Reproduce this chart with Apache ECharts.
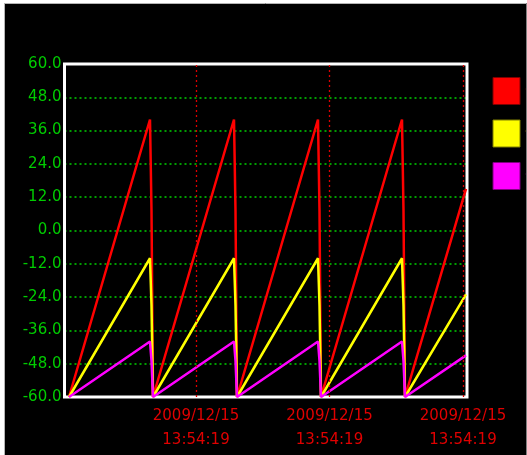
<!DOCTYPE html>
<html>
<head>
<meta charset="utf-8">
<script src="https://cdn.jsdelivr.net/npm/echarts@6/dist/echarts.min.js"></script>
<style>
html,body{margin:0;padding:0;background:#fff;}
#chart{width:527px;height:455px;}
</style>
</head>
<body>
<div id="chart"></div>
<script>
// sample positions along the x axis (sample index units)
const sampleX = [4.5, 85.5, 87, 88.5, 169.5, 171, 172.5, 253.5, 255, 256.5, 337.5, 339, 340.5, 401.5];
const seriesNames = ['CH1', 'CH2', 'CH3'];
const redValues = [-60, 40, 7, -60, 40, 7, -60, 40, 7, -60, 40, 7, -60, 15];
const yellowValues = [-60, -10, -27, -60, -10, -27, -60, -10, -27, -60, -10, -27, -60, -23];
const magentaValues = [-60, -40, -47, -60, -40, -47, -60, -40, -47, -60, -40, -47, -60, -45];
const xTickPositions = [131.5, 265, 398.5];
const xTickLabels = ['2009/12/15\n13:54:19', '2009/12/15\n13:54:19', '2009/12/15\n13:54:19'];
const yMin = -60, yMax = 60, yStep = 12;

const colors = ['#ff0000', '#ffff00', '#ff00ff'];
const borders = ['#800000', '#808000', '#800080'];

function pairs(vals) { return vals.map((v, i) => [sampleX[i], v]); }

const chart = echarts.init(document.getElementById('chart'), null, {renderer: 'canvas'});
const GL = 64.5, GT = 64, GW = 402.5, GH = 333;
const option = {
  backgroundColor: '#000',
  animation: false,
  textStyle: {fontFamily: 'DejaVu Sans'},
  grid: {left: GL, top: GT, width: GW, height: GH, show: false},
  legend: {
    orient: 'vertical', left: 492.5, top: 77, padding: 0,
    itemWidth: 27, itemHeight: 27, itemGap: 14.5,
    icon: 'rect',
    textStyle: {fontSize: 15, fontFamily: 'DejaVu Sans'},
    data: seriesNames.map((n, i) => ({name: n, textStyle: {color: colors[i]}, itemStyle: {color: colors[i], borderColor: borders[i], borderWidth: 1}}))
  },
  xAxis: {
    type: 'value', min: 0, max: GW,
    axisLine: {show: false}, axisTick: {show: false}, splitLine: {show: false},
    axisLabel: {
      customValues: xTickPositions,
      formatter: v => { const i = xTickPositions.indexOf(v); return i >= 0 ? xTickLabels[i] : ''; },
      color: '#e00000', fontSize: 15, fontFamily: 'DejaVu Sans', lineHeight: 24, margin: 7
    }
  },
  yAxis: {
    type: 'value', min: yMin, max: yMax, interval: yStep,
    axisLine: {show: false}, axisTick: {show: false},
    splitLine: {show: true, lineStyle: {color: '#00d000', type: [2, 3], width: 1.6}},
    axisLabel: {color: '#00cc00', fontSize: 15, fontFamily: 'DejaVu Sans', margin: 3, formatter: v => v.toFixed(1)}
  },
  graphic: [
    {type: 'rect', z: 1, silent: true, shape: {x: GL, y: GT, width: GW, height: GH}, style: {fill: null, stroke: '#ffffff', lineWidth: 3}},
    {type: 'rect', z: 100, silent: true, shape: {x: 0, y: 0, width: 527, height: 3}, style: {fill: '#ffffff'}},
    {type: 'rect', z: 100, silent: true, shape: {x: 0, y: 0, width: 4, height: 455}, style: {fill: '#ffffff'}},
    {type: 'line', z: 101, silent: true, shape: {x1: 4, y1: 3.5, x2: 527, y2: 3.5}, style: {stroke: '#b4b4b4', lineWidth: 1}},
    {type: 'line', z: 101, silent: true, shape: {x1: 4.5, y1: 3, x2: 4.5, y2: 455}, style: {stroke: '#b4b4b4', lineWidth: 1}},
    {type: 'line', z: 101, silent: true, shape: {x1: 526.5, y1: 3, x2: 526.5, y2: 455}, style: {stroke: '#808080', lineWidth: 1}}
  ],
  series: [
    {name: seriesNames[0], type: 'line', data: pairs(redValues), showSymbol: false, symbol: 'none',
      lineStyle: {color: colors[0], width: 2.5}, itemStyle: {color: colors[0]},
      markLine: {silent: true, symbol: ['none', 'none'], label: {show: false},
        lineStyle: {color: '#dd0000', type: [2, 3], width: 1.3},
        data: xTickPositions.map(p => ({xAxis: p}))}},
    {name: seriesNames[1], type: 'line', data: pairs(yellowValues), showSymbol: false, symbol: 'none',
      lineStyle: {color: colors[1], width: 2.5}, itemStyle: {color: colors[1]}},
    {name: seriesNames[2], type: 'line', data: pairs(magentaValues), showSymbol: false, symbol: 'none',
      lineStyle: {color: colors[2], width: 2.5}, itemStyle: {color: colors[2]}}
  ]
};
chart.setOption(option);
</script>
</body>
</html>
